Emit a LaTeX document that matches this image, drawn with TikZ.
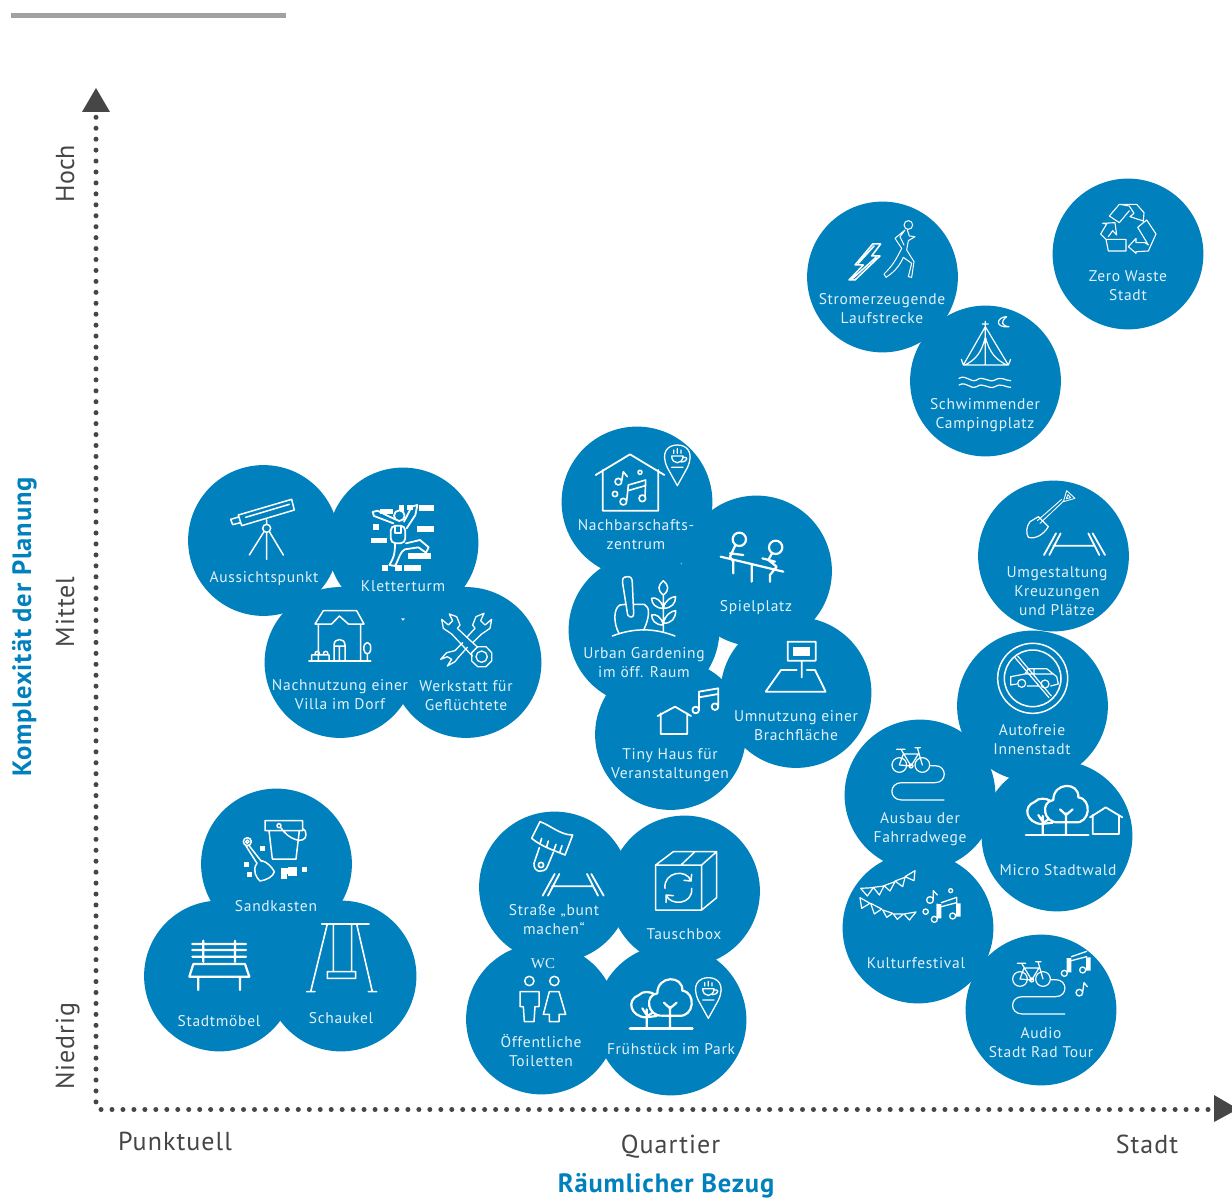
\documentclass[tikz,border=0pt]{standalone}
\usepackage{fontspec}
\setmainfont{PT Sans}
\newfontfamily\labfam[LetterSpace=4.5]{PT Sans}
\newfontfamily\axfam[LetterSpace=4]{PT Sans}
\newfontfamily\plainfam{PT Sans}
\newfontfamily\ttlfam[LetterSpace=3.2]{PT Sans}
\newfontfamily\serfam{Liberation Serif}
\newcommand\labf{\fontsize{15.5}{19}\selectfont\labfam}
\newcommand\axf{\fontsize{26}{30}\selectfont\axfam}
\newcommand\ttlf{\fontsize{26.5}{30}\selectfont\ttlfam\bfseries}
\definecolor{bub}{HTML}{0080BD}
\definecolor{lab}{HTML}{E2F1F9}
\definecolor{ax}{HTML}{464646}
\tikzset{
  zm/.style 2 args={shift={(#1,#2)},x=0.33333pt,y=-0.33333pt},
  ic/.style={draw=white,line width=1.5pt,line join=round,line cap=round},
  bubble/.style={circle,fill=bub,minimum size=150.8pt,inner sep=0pt,outer sep=0pt},
  lbl/.style={anchor=base,inner sep=0pt,outer sep=0pt,text=lab,font=\labf,align=center},
  axlbl/.style={anchor=base,inner sep=0pt,outer sep=0pt,text=ax,font=\axf},
  ttl/.style={anchor=base,inner sep=0pt,outer sep=0pt,text=bub,font=\ttlf},
  dotline/.style={draw=ax,line width=5pt,line cap=round},
  wfill/.style={fill=white,draw=none}
}
% ---- repeated icons (local coordinates of one zoom unit = 1/3 px)
\newcommand\icroad{%
  \draw[ic,line width=1.8pt] (612,225)--(648,160) (628,225)--(662,160)
     (795,225)--(758,160) (778,225)--(745,160) (640,197)--(762,197);}
\newcommand\icbike{%
  \draw[ic,line width=1.2pt] (178,855) circle (22) (247,855) circle (22) (213,858) circle (6)
    (170,808)--(195,808) (183,808)--(213,858)--(235,822)--(190,822)--(178,855)--(213,858)
    (225,803)--(241,803) (232,803)--(247,855);
  \draw[ic,line width=1.2pt] (272,857)--(285,857) .. controls (322,857) and (322,908) .. (285,908)
    --(185,908) .. controls (146,908) and (146,960) .. (185,960)--(312,960);}
\newcommand\ictrees{%
  \draw[ic,line width=2.2pt] (655,187) .. controls (610,190) and (600,125) .. (640,120)
     .. controls (640,65) and (718,65) .. (715,112) .. controls (758,118) and (750,192) .. (705,187) -- cycle;
  \draw[ic,line width=2.2pt] (678,225)--(678,160) (678,165)--(660,148) (678,165)--(698,148);
  \draw[ic,line width=2.2pt] (638,188)--(605,192) .. controls (560,190) and (545,140) .. (585,125)
     .. controls (595,112) and (620,115) .. (630,122);
  \draw[ic,line width=2.2pt] (608,225)--(608,168) (608,185)--(595,165) (608,190)--(625,178);
  \draw[ic,line width=2.8pt] (558,225)--(745,225);}
\newcommand\icpin{%
  \draw[ic,line width=1.3pt] (367,197)--(337,143) .. controls (315,95) and (340,75) .. (367,75)
     .. controls (394,75) and (419,95) .. (397,143) -- cycle;
  \draw[ic,line width=1.3pt] (350,108)--(384,108) .. controls (384,135) and (350,135) .. (350,108)
     (384,112) .. controls (400,108) and (400,125) .. (378,126)
     (350,142)--(384,142)
     (356,100)--(356,90) (367,100)--(367,86) (378,100)--(378,90);}
\newcommand\icnotes{%
  \draw[ic,line width=1.3pt] (270,420) circle (10) (280,418)--(280,392)--(292,405)
     (332,392) circle (6) (257,455) circle (8) (283,478) circle (9) (338,468) circle (9);
  \draw[ic,line width=1.3pt] (304,428)--(350,412) (304,440)--(350,428) (350,412)--(350,460) (292,432)--(292,470);
  \fill[wfill] (290,432) rectangle (304,475) (348,430) rectangle (362,470);}
\begin{document}
\begin{tikzpicture}[x=1pt,y=-1pt]
\clip (0,0) rectangle (1232,1198);
\fill[white] (0,0) rectangle (1232,1198);
% header bar
\fill[black!37] (11,13) rectangle (285.5,18);
% axes
\coordinate (ytop) at (96,117.3);
\coordinate (ybot) at (96,1109.5);
\coordinate (xbeg) at (1208,1109.5);
\coordinate (xend) at (96,1109.5);
\draw[dotline,dash pattern=on 0pt off 10.94pt] (ytop) -- (ybot);
\draw[dotline,dash pattern=on 0pt off 10.96pt] (xbeg) -- (xend);
\fill[ax] (96,88)--(110,112)--(82,112)--cycle;
\fill[ax] (1214,1095)--(1238,1109)--(1214,1122)--cycle;
\node[axlbl,rotate=90,anchor=base,font=\fontsize{26}{30}\selectfont\plainfam] (hoch) at (74,173.5) {Hoch};
\node[axlbl,rotate=90,anchor=base] (mittel) at (74,612) {Mittel};
\node[axlbl,rotate=90,anchor=base] (niedrig) at (74,1046) {Niedrig};
\node[axlbl] (punkt) at (175,1150) {Punktuell};
\node[axlbl] (quart) at (670.5,1153) {Quartier};
\node[axlbl] (stadt) at (1147,1153) {Stadt};
\node[ttl,rotate=90] (yttl) at (31,627) {Komplexität der Planung};
\node[ttl] (xttl) at (666,1192) {Räumlicher Bezug};
% bubbles
\foreach \n/\x/\y in {aus/263.5/540.5,klet/403/543,nach/340/662.5,werk/466/662.5,
  nbz/637/502,spiel/756.5/571,urb/644/630,umn/796/692.5,tiny/670.5/734.5,
  strom/882.5/277,schw/985.5/381,zero/1128/254,umg/1053.5/556,auto/1032.5/706,
  ausb/920/795,micro/1057/836,kult/918/928,audio/1041/1010,
  sand/276.5/864,moeb/219.5/976,schau/341/976,
  str/554.5/887,tausch/684.5/891,oeff/541.5/1019,frueh/671/1020}
  \node[bubble] (\n) at (\x,\y) {};
% labels
\node[lbl] (t1) at (264,582) {Aussichtspunkt};
\node[lbl] (t2) at (403,591) {Kletterturm};
\node[lbl] (t3) at (340,709) {Nachnutzung einer\\Villa im Dorf};
\node[lbl] (t4) at (466,710) {Werkstatt für\\Geflüchtete};
\node[lbl] (t5) at (636,549) {Nachbarschafts-\\zentrum};
\node[lbl] (t6) at (756,611) {Spielplatz};
\node[lbl] (t7) at (644,677) {Urban Gardening\\im öff. Raum};
\node[lbl] (t8) at (796,740) {Umnutzung einer\\Brachfläche};
\node[lbl] (t9) at (670,778) {Tiny Haus für\\Veranstaltungen};
\node[lbl] (t10) at (882,324) {Stromerzeugende\\Laufstrecke};
\node[lbl] (t11) at (985,428) {Schwimmender\\Campingplatz};
\node[lbl] (t12) at (1128,301) {Zero Waste\\Stadt};
\node[lbl] (t13) at (1057,615) {Umgestaltung\\Kreuzungen\\und Plätze};
\node[lbl] (t14) at (1032,754) {Autofreie\\Innenstadt};
\node[lbl] (t15) at (920,842) {Ausbau der\\Fahrradwege};
\node[lbl] (t16) at (1058,875) {Micro Stadtwald};
\node[lbl] (t17) at (916,968) {Kulturfestival};
\node[lbl] (t18) at (1041,1057) {Audio\\Stadt Rad Tour};
\node[lbl] (t19) at (276,911) {Sandkasten};
\node[lbl] (t20) at (219,1026) {Stadtmöbel};
\node[lbl] (t21) at (341,1023) {Schaukel};
\node[lbl] (t22) at (554,934) {Straße „bunt\\machen“};
\node[lbl] (t23) at (684,939) {Tauschbox};
\node[lbl] (t24) at (541,1066) {Öffentliche\\Toiletten};
\node[lbl] (t25) at (671,1054) {Frühstück im Park};
\node[lbl,font=\fontsize{15}{18}\selectfont\serfam] (wc) at (543,968) {WC};
% ===== cluster 1
\begin{scope}[zm={180}{460}]
 % telescope
 \draw[ic] (175,165)--(335,118)--(343,150)--(185,197)--cycle
   (152,178)--(176,171) (182,188)--(158,194)--(152,178) (197,172)--(328,133)
   (260,205) circle (12) (260,180)--(260,193)
   (252,215)--(208,285) (260,217)--(260,298) (268,215)--(310,285);
 % climber
 \foreach \a/\b/\c/\d in {600/148/638/163,658/135/672/152,680/135/698/150,718/135/762/152,
   580/192/596/210,712/197/762/215,573/234/620/250,685/278/735/296,735/278/752/296,
   607/316/624/332,645/316/666/332,672/316/723/332}
   \fill[wfill] (\a,\b) rectangle (\c,\d);
 \draw[ic,line width=1.8pt,fill=bub] (658,167) circle (16);
 \draw[ic,line width=1.8pt] (640,190)--(582,168)--(578,156)--(592,152)--(645,178)
   (672,185)--(695,140)--(712,135)--(706,165)--(680,205);
 \draw[ic,line width=1.8pt,rounded corners=5pt] (632,197) rectangle (676,250);
 \draw[ic,line width=1.8pt] (645,197)--(645,220)--(663,220)--(663,197);
 \draw[ic,line width=1.8pt] (645,250) .. controls (645,285) and (640,295) .. (628,315)--(645,318)
    .. controls (660,290) and (660,275) .. (675,268)--(715,262)--(738,278)--(746,262)--(720,240)--(678,250);
 % villa
 \draw[ic] (405,492)--(430,452)--(530,452)--(552,492)--(505,492)--(478,468)--(455,492)--cycle
   (415,492)--(415,602) (542,492)--(542,602) 
   (462,602)--(462,555) .. controls (462,533) and (495,533) .. (495,555)--(495,602)
   (478,558)--(478,602) (462,558)--(495,558)
   (395,602)--(395,585)--(447,585)--(447,602)
   (405,585)..controls (403,570) and (421,570) .. (419,585)
   (430,585)..controls (428,570) and (446,570) .. (444,585)
   (552,570) .. controls (548,540) and (576,540) .. (572,570) .. controls (570,585) and (554,585) .. (552,570)
   (562,582)--(562,602);
 \draw[ic,line width=2pt] (387,604)--(572,604);
 % tools
 \draw[ic,line width=1.3pt] (808,462)--(830,470)--(840,495)--(832,505)--(893,562)
   (808,462)--(818,482)--(805,495)--(785,478)--(790,505)--(815,522)--(877,588)
   (893,560)--(918,560)--(935,578)--(935,603)--(918,620)--(893,620)--(875,603)--(875,578)--cycle
   (905,590) circle (17)
   (912,460)--(888,470)--(878,495)--(885,505)--(862,530)
   (912,460)--(902,482)--(915,495)--(935,478)--(930,505)--(905,522)--(878,548)
   (848,548)--(825,572)--(800,578)--(782,598)
   (862,562)--(835,592)--(825,605)--(802,618)
   (782,598)--(802,590)--(815,598)--(802,618);
\end{scope}
% ===== cluster 2
\begin{scope}[zm={555}{420}]
 \draw[ic,line width=1.8pt] (122,165)--(225,103)--(328,165)
   (143,150)--(143,272)--(310,272)--(310,150);
 \draw[ic,line width=1.6pt] (190,185) circle (10) (200,183)--(205,155)--(217,170)
   (255,157) circle (6) (180,222) circle (8)
   (205,245) circle (10) (262,235) circle (10)
   (215,243)--(220,195)--(272,180)--(270,232) (219,212)--(271,197);
 \icpin
 % seesaw
 \draw[ic,line width=2.2pt] (497,410)--(685,455) (590,437)--(590,485)
   (553,358) circle (20) (662,382) circle (20)
   (540,378)--(525,410)--(535,425)--(535,460) (525,400)--(565,405)
   (650,402)--(640,420)--(665,440)--(645,465)--(645,485) (622,415)--(660,425);
 % urban gardening
 \draw[ic] (218,470) .. controls (200,470) and (203,480) .. (203,490)--(218,585)
   .. controls (225,595) and (238,592) .. (236,580)--(232,490) .. controls (232,475) and (228,470) .. (218,470);
 \draw[ic] (212,553)--(195,555) .. controls (175,565) and (175,610) .. (192,640)
   (238,553)--(268,553) .. controls (285,560) and (285,590) .. (266,630);
 \draw[ic] (172,648) .. controls (240,622) and (300,625) .. (360,648);
 \draw[ic] (325,525)--(325,635)
   (325,482) .. controls (310,495) and (305,510) .. (325,525) .. controls (345,510) and (340,495) .. (325,482)
   (325,565) .. controls (320,540) and (300,530) .. (290,535) .. controls (290,550) and (300,565) .. (325,565)
   (325,565) .. controls (330,540) and (350,530) .. (362,530) .. controls (362,550) and (350,565) .. (325,565)
   (325,615) .. controls (320,590) and (300,580) .. (290,585) .. controls (290,600) and (300,615) .. (325,615)
   (325,610) .. controls (330,585) and (350,572) .. (362,572) .. controls (362,595) and (350,610) .. (325,610);
 % sign on field
 \draw[ic,line width=1.8pt] (698,665) rectangle (782,722) (740,722)--(740,772)
   (632,815)--(678,750)--(725,750) (755,750)--(780,750)--(812,815)--(632,815);
 \fill[wfill] (715,682) rectangle (765,707);
 % tiny house + notes
 \draw[ic,line width=1.8pt] (308,888)--(360,860)--(408,888) (317,880)--(317,942)--(397,942)--(397,880)
   (422,870) circle (10) (480,860) circle (10) (432,868)--(432,815)--(490,805)--(490,858) (432,832)--(490,822);
\end{scope}
% ===== top right
\begin{scope}[zm={800}{170}]
 \draw[ic] (218,222)--(242,222)--(215,258)--(240,258)--(165,330)--(147,330)--(190,285)--(165,285)--cycle
    (222,228)--(175,280) (228,262)--(155,328);
 \draw[ic,line width=1pt] (325,165) circle (13)
   (315,180)--(285,205)--(305,235) .. controls (290,265) and (280,285) .. (252,312)--(258,322)
   .. controls (285,305) and (300,285) .. (310,262)--(335,280)--(325,320)--(335,322)--(342,275)--(320,240)
   (322,180)--(328,198)--(345,200)--(325,212)--(320,240)
   (315,180)--(300,200)--(312,225);
 % tent
 \draw[ic,line width=1.2pt] (556,470)--(490,585)--(625,585)--cycle (556,470)--(556,585)
   (556,500) .. controls (545,550) and (525,570) .. (495,585)
   (556,500) .. controls (568,550) and (590,570) .. (620,585)
   (484,568)--(490,585) (632,568)--(625,585)
   (556,454)--(556,472) (547,462)--(565,462);
 \draw[ic,line width=1.2pt] (620,440) .. controls (590,440) and (582,475) .. (627,470)
   .. controls (605,468) and (600,455) .. cycle;
 \draw[ic,line width=1.2pt]
   (477,625) .. controls (500,612) and (510,640) .. (530,630) .. controls (550,615) and (565,640) .. (585,630) .. controls (605,618) and (615,632) .. (632,632)
   (477,645) .. controls (500,632) and (510,660) .. (530,650) .. controls (550,635) and (565,660) .. (585,650) .. controls (605,638) and (615,652) .. (632,652);
 % recycling
 \draw[ic,line width=1.1pt] (928,138)--(958,103)--(1010,103)--(1032,128)--(1030,153)--(990,140)--(1002,130)--(988,108)--(958,103)
   (988,122)--(958,158)--(928,138)
   (1013,172)--(1040,150)--(1068,192)--(1045,243)--(1008,245)--(1008,250)--(985,230)--(1008,205)--(1008,218)--(1035,218)--(1045,225)--(1013,172)
   (918,208)--(978,208)--(978,243)--(925,243)--cycle
   (918,208)--(902,192)--(920,162)--(908,160)--(945,158)--(950,195)--(938,182)--(925,200);
\end{scope}
% ===== right column
\begin{scope}[zm={840}{480}]
 \draw[ic,line width=0.9pt] (680,32)--(705,55)--(670,65)--cycle (684,44)--(692,53)--(679,56)--cycle
   (672,62)--(600,130) (665,58)--(592,122);
 \draw[ic,line width=1.2pt]
   (595,110)--(570,125) .. controls (558,140) and (558,160) .. (565,172) .. controls (585,178) and (610,165) .. (625,140)--cycle;
 \icroad
 \draw[ic] (578,595) circle (105) (578,595) circle (85);
 \draw[ic,line width=1.2pt] (525,533)--(627,653) (533,528)--(634,648)
   (512,615)--(512,590)--(555,582)--(565,566)--(620,566)--(650,590)--(655,612)--(632,618)
   (530,612)--(512,615) (562,618)--(598,618)
   (545,610) circle (12) (615,612) circle (12) (582,566)--(582,582) (555,582)--(640,582);
 \icbike
\end{scope}
\begin{scope}[zm={840}{760}]
 \ictrees
 \draw[ic,line width=1.8pt] (750,172)--(797,142)--(847,172) (758,165)--(758,222)--(837,222)--(837,165);
 % bunting
 \foreach \pa/\pb/\pc in {{(62,385)}/{(100,383)}/{(82,408)},{(100,382)}/{(132,378)}/{(118,405)},
   {(132,377)}/{(165,365)}/{(150,393)},{(165,363)}/{(195,352)}/{(188,380)},{(195,350)}/{(225,332)}/{(222,362)},
   {(60,413)}/{(90,430)}/{(65,445)},{(92,430)}/{(125,447)}/{(103,462)},{(128,450)}/{(158,460)}/{(140,472)},
   {(160,462)}/{(190,462)}/{(172,478)},{(192,462)}/{(228,456)}/{(208,480)}}
   \draw[ic,line width=1.2pt] \pa--\pb--\pc--cycle;
 \icnotes
 \begin{scope}[shift={(390,162)}]
  \draw[ic,line width=1.3pt] (283,478) circle (9) (338,468) circle (9);
  \draw[ic,line width=1.3pt] (304,428)--(350,412) (304,440)--(350,428);
  \fill[wfill] (290,432) rectangle (304,475) (348,430) rectangle (362,470);
 \end{scope}
 \draw[ic,line width=1.3pt] (718,698) circle (10) (728,696)--(732,668)--(742,680);
 \begin{scope}[shift={(362,-198)}]\icbike\end{scope}
\end{scope}
% ===== quartier bottom
\begin{scope}[zm={460}{805}]
 \draw[ic,line width=1.6pt] (215,100)--(240,50) .. controls (270,60) and (300,90) .. (338,90)--(315,150)
    .. controls (280,135) and (245,125) .. (215,100)
    (240,116)--(245,100) (260,125)--(265,108) (282,135)--(288,118) (300,140)--(306,122)
    (238,128)--(222,175) .. controls (220,205) and (255,205) .. (262,185)--(280,142)
    (243,180) circle (8);
 \begin{scope}[shift={(-364,47)}]\icroad\end{scope}
 \draw[ic] (587,180)--(725,180)--(725,315)--(587,315)--cycle
   (587,180)--(640,140)--(770,140)--(725,180) (770,140)--(770,278)--(725,315) (665,178)--(705,140)
   (615,250) .. controls (610,200) and (680,190) .. (693,228) (693,228)--(672,226) (693,228)--(695,208)
   (695,250) .. controls (700,298) and (632,305) .. (618,270) (618,270)--(640,272) (618,270)--(618,292);
 \draw[ic,line width=1.5pt] (208,528) circle (14) (283,528) circle (14)
   (180,560)--(237,560)--(237,605)--(225,605)--(222,650)--(193,650)--(190,605)--(180,605)--cycle
   (268,560)--(297,560)--(317,628)--(297,628)--(297,650)--(268,650)--(268,628)--(250,628)--cycle;
 \begin{scope}[shift={(-48,445)}]\ictrees\end{scope}
 \begin{scope}[shift={(378,443)}]\icpin\end{scope}
\end{scope}
% ===== left bottom
\begin{scope}[zm={135}{780}]
 \draw[ic] (390,122) rectangle (503,152) (402,152)--(412,237)--(483,237)--(493,152)
   (432,137) circle (6) (436,141) .. controls (460,180) and (510,195) .. (513,165) .. controls (514,155) and (510,150) .. (503,145)
   (337,185) circle (12) (337,185) circle (5)
   (343,198)--(380,245) (333,198)--(366,250)
   (366,250) .. controls (350,270) and (365,295) .. (375,303) .. controls (395,300) and (415,290) .. (418,275) .. controls (410,260) and (395,245) .. (380,242);
 \foreach \a/\b/\c/\d in {375/197/390/212,328/247/343/262,335/275/350/292,438/265/458/283,458/262/487/288,438/283/455/298,500/262/515/277}
   \fill[wfill] (\a,\b) rectangle (\c,\d);
 \draw[ic,line width=2.2pt] (172,492)--(333,492) (172,510)--(333,510) (172,530)--(333,530)
   (205,482)--(205,545) (300,482)--(300,545)
   (175,552)--(330,552)--(343,590)--(163,590)--cycle (190,590)--(190,630) (315,590)--(315,630);
 \draw[ic,line width=1.6pt] (560,432)--(702,432) (577,432)--(527,635) (665,432)--(712,635)
   (515,635)--(540,635) (700,635)--(725,635) (595,432)--(595,575) (650,432)--(650,575)
   (577,575) rectangle (662,595);
\end{scope}
\end{tikzpicture}
\end{document}
